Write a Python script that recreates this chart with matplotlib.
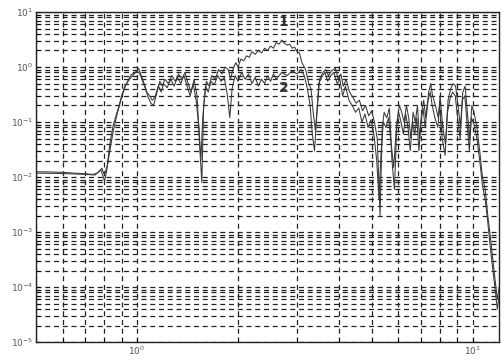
import numpy as np
import matplotlib
matplotlib.use('Agg')
import matplotlib.pyplot as plt
from matplotlib.ticker import LogLocator, NullFormatter, FixedLocator

# curve 1 (upper)
freq1 = [0.50, 0.55, 0.60, 0.65, 0.70, 0.74, 0.76, 0.78, 0.79, 0.80, 0.81, 0.83, 0.85, 0.87,
         0.89, 0.91, 0.93, 0.96, 0.99, 1.01, 1.03, 1.05, 1.07, 1.09, 1.11, 1.13, 1.15, 1.17,
         1.19, 1.21, 1.24, 1.27, 1.30, 1.33, 1.36, 1.39, 1.42, 1.45, 1.48, 1.51, 1.54, 1.56,
         1.58, 1.61, 1.64, 1.67, 1.71, 1.75, 1.79, 1.83, 1.87, 1.90, 1.93, 1.97, 2.00, 2.04,
         2.08, 2.12, 2.16, 2.20, 2.25, 2.30, 2.35, 2.40, 2.45, 2.50, 2.55, 2.60, 2.65, 2.70,
         2.75, 2.80, 2.85, 2.90, 2.95, 3.00, 3.05, 3.10, 3.18, 3.25, 3.30, 3.35, 3.40, 3.45,
         3.50, 3.58, 3.65, 3.72, 3.80, 3.90, 3.98, 4.05, 4.12, 4.20, 4.30, 4.40, 4.50, 4.60,
         4.70, 4.80, 4.90, 5.00, 5.10, 5.20, 5.30, 5.38, 5.45, 5.55, 5.65, 5.75, 5.85, 5.95,
         6.05, 6.15, 6.25, 6.35, 6.45, 6.55, 6.65, 6.75, 6.85, 6.95, 7.05, 7.15, 7.25, 7.40,
         7.50, 7.60, 7.75, 7.90, 8.00, 8.15, 8.30, 8.45, 8.60, 8.75, 8.90, 9.05, 9.20, 9.35,
         9.50, 9.65, 9.80, 9.95, 10.1, 10.3, 10.5, 10.7, 10.9, 11.1, 11.3, 11.5, 11.7, 11.85,
         12.0]
amp1 = [0.0125, 0.0124, 0.0122, 0.0118, 0.0115, 0.0112, 0.0118, 0.0135, 0.011, 0.0085, 0.012,
        0.03, 0.07, 0.13, 0.22, 0.35, 0.5, 0.72, 0.8, 0.95, 0.7, 0.5, 0.35, 0.3, 0.25, 0.28,
        0.4, 0.55, 0.45, 0.6, 0.5, 0.7, 0.55, 0.75, 0.6, 0.8, 0.5, 0.35, 0.6, 0.3, 0.03, 0.008,
        0.2, 0.55, 0.45, 0.7, 0.6, 0.9, 0.75, 1.0, 0.9, 0.6, 0.9, 1.2, 1.0, 1.4, 1.3, 1.6, 1.5,
        1.9, 1.7, 2.0, 1.8, 2.2, 2.0, 2.4, 2.2, 2.8, 2.6, 3.1, 2.7, 2.5, 2.6, 2.2, 2.3, 1.9,
        1.8, 1.2, 0.9, 0.5, 0.4, 0.15, 0.07, 0.2, 0.6, 0.8, 0.9, 0.7, 0.85, 0.95, 0.6, 0.75,
        0.45, 0.6, 0.35, 0.28, 0.22, 0.25, 0.16, 0.2, 0.13, 0.16, 0.1, 0.05, 0.002, 0.08, 0.15,
        0.12, 0.18, 0.02, 0.006, 0.1, 0.2, 0.15, 0.1, 0.2, 0.12, 0.05, 0.15, 0.1, 0.2, 0.05,
        0.15, 0.25, 0.12, 0.35, 0.5, 0.3, 0.2, 0.12, 0.3, 0.08, 0.04, 0.25, 0.4, 0.5, 0.45,
        0.2, 0.08, 0.35, 0.45, 0.15, 0.05, 0.2, 0.15, 0.08, 0.03, 0.01, 0.006, 0.002, 0.0008,
        0.0003, 0.00012, 6e-5, 1e-4]

# curve 2 (lower)
freq2 = [0.50, 0.60, 0.70, 0.75, 0.77, 0.785, 0.80, 0.815, 0.83, 0.85, 0.88, 0.90, 0.92, 0.95,
         0.98, 1.00, 1.02, 1.04, 1.06, 1.08, 1.10, 1.12, 1.14, 1.16, 1.18, 1.20, 1.23, 1.26,
         1.29, 1.32, 1.35, 1.38, 1.41, 1.44, 1.47, 1.50, 1.53, 1.55, 1.57, 1.60, 1.63, 1.66,
         1.70, 1.74, 1.78, 1.82, 1.86, 1.89, 1.92, 1.96, 2.00, 2.05, 2.10, 2.15, 2.20, 2.25,
         2.30, 2.35, 2.40, 2.45, 2.50, 2.55, 2.60, 2.70, 2.80, 2.90, 3.00, 3.08, 3.15, 3.22,
         3.28, 3.33, 3.38, 3.43, 3.48, 3.55, 3.63, 3.70, 3.78, 3.86, 3.95, 4.02, 4.10, 4.18,
         4.28, 4.38, 4.48, 4.58, 4.68, 4.78, 4.88, 4.98, 5.08, 5.18, 5.26, 5.34, 5.42, 5.52,
         5.62, 5.72, 5.82, 5.92, 6.02, 6.12, 6.22, 6.32, 6.42, 6.52, 6.62, 6.72, 6.82, 6.92,
         7.02, 7.12, 7.22, 7.37, 7.48, 7.58, 7.72, 7.88, 7.98, 8.12, 8.28, 8.42, 8.58, 8.72,
         8.88, 9.02, 9.18, 9.32, 9.48, 9.62, 9.78, 9.92, 10.1, 10.3, 10.5, 10.7, 10.9, 11.1,
         11.3, 11.5, 11.7, 11.85, 12.0]
amp2 = [0.0118, 0.0116, 0.0112, 0.0109, 0.0125, 0.0145, 0.011, 0.016, 0.04, 0.09, 0.18, 0.3,
        0.45, 0.6, 0.75, 0.85, 0.75, 0.55, 0.4, 0.28, 0.22, 0.2, 0.3, 0.45, 0.35, 0.5, 0.42,
        0.6, 0.45, 0.65, 0.5, 0.7, 0.45, 0.3, 0.5, 0.25, 0.08, 0.02, 0.12, 0.45, 0.35, 0.55,
        0.48, 0.7, 0.55, 0.65, 0.3, 0.12, 0.4, 0.7, 0.55, 0.8, 0.6, 0.75, 0.5, 0.65, 0.45,
        0.6, 0.5, 0.7, 0.55, 0.75, 0.6, 0.8, 0.7, 0.85, 0.75, 0.9, 0.7, 0.4, 0.2, 0.06, 0.03,
        0.12, 0.5, 0.65, 0.8, 0.55, 0.7, 0.8, 0.5, 0.6, 0.3, 0.45, 0.25, 0.2, 0.15, 0.18, 0.1,
        0.14, 0.08, 0.11, 0.06, 0.02, 0.004, 0.03, 0.1, 0.08, 0.12, 0.04, 0.015, 0.07, 0.15,
        0.1, 0.06, 0.14, 0.08, 0.03, 0.1, 0.06, 0.12, 0.03, 0.1, 0.18, 0.08, 0.25, 0.35, 0.2,
        0.12, 0.08, 0.2, 0.05, 0.025, 0.15, 0.28, 0.35, 0.3, 0.12, 0.05, 0.25, 0.3, 0.1, 0.03,
        0.12, 0.09, 0.05, 0.02, 0.007, 0.004, 0.0015, 0.0005, 0.0002, 8e-5, 4e-5, 7e-5]

# curve labels
labels = ['1', '2']
label_x = [2.73, 2.73]
label_y = [6.5, 0.42]

# axis ticks
yticks = [1e-5, 1e-4, 1e-3, 1e-2, 1e-1, 1, 10]
xticks = [1, 10]

fig = plt.figure(figsize=(5.04, 3.64), dpi=100)
ax = fig.add_axes([0.0714, 0.06, 0.919, 0.907])
ax.set_xscale('log')
ax.set_yscale('log')

ax.plot(freq1, amp1, c='#383838', lw=0.75)
ax.plot(freq2, amp2, c='#383838', lw=0.75)
for t, x, y in zip(labels, label_x, label_y):
	ax.text(x, y, t, ha='center', va='center', fontsize=10, fontweight='bold', color='#333333')

ax.set_xlim(0.5, 12)
ax.set_ylim(1e-5, 10)
ax.yaxis.set_major_locator(FixedLocator(yticks))
ax.xaxis.set_major_locator(FixedLocator(xticks))
ax.set_yticklabels([r'$10^{%d}$' % int(np.log10(v)) for v in yticks])
ax.set_xticklabels([r'$10^{%d}$' % int(np.log10(v)) for v in xticks])
ax.yaxis.set_minor_locator(LogLocator(base=10, subs=np.arange(2, 10), numticks=20))
ax.yaxis.set_minor_formatter(NullFormatter())
ax.xaxis.set_minor_formatter(NullFormatter())
ax.grid(True, which='both', color='#222222', ls=(0, (4, 3)), lw=0.9)
ax.tick_params(which='both', direction='in', labelsize=6.5, labelcolor='#555555', length=3, pad=2)
for s in ax.spines.values():
	s.set_linewidth(1.0)
	s.set_color('#222222')

fig.savefig('out.png', dpi=100)
